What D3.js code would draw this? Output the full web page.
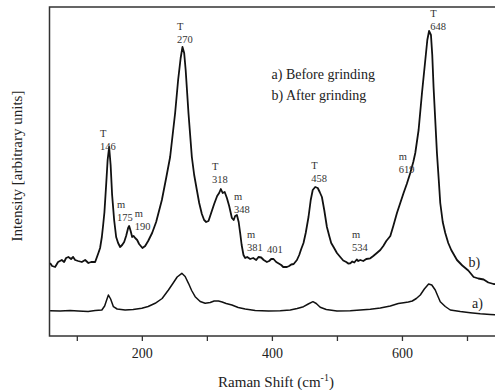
<!DOCTYPE html>
<html>
<head>
<meta charset="utf-8">
<script src="https://cdn.jsdelivr.net/npm/d3@7"></script>
<style>
  body { margin: 0; background: #fff; }
  svg text { font-family: "Liberation Serif", "Times New Roman", serif; }
</style>
</head>
<body>
<div id="chart"></div>
<script>
// Raman shift (cm-1) and intensity (arbitrary units)
const afterShift = [58.9, 62, 66.6, 71.2, 76.9, 80.5, 83.5, 87, 91.2, 94.3, 97.4, 102, 107.7, 112.8, 117.8, 122, 128.2, 133.2, 135.8, 138.5, 140.5, 142.5, 145.1, 147.4, 149.7, 152, 154.3, 157.4, 160.5, 163.5, 166.6, 169.7, 172.8, 175.8, 178.9, 180.5, 182.8, 185.1, 187.4, 189.7, 192.8, 195.8, 200.9, 205.1, 209.7, 215.8, 222, 230.8, 237.4, 243.5, 251.2, 255.8, 259.7, 262.5, 265.1, 267.4, 271.7, 276.9, 280.5, 284.6, 288.2, 292.3, 295.8, 298.9, 302.5, 306.6, 311.2, 315.8, 318.9, 321.5, 324.3, 327.4, 330.8, 334.3, 338.5, 341.2, 343.5, 346.2, 348.9, 351.2, 353.5, 356.3, 358.9, 362, 366.6, 371.2, 375.9, 379.4, 383.5, 387.4, 392.3, 395.8, 398.9, 402.5, 406.6, 410.5, 414.3, 417.4, 423.1, 426.6, 429.7, 433.5, 438.5, 442, 445.1, 448.6, 452, 456.3, 459.7, 462.8, 466.6, 470.5, 473.5, 476.9, 480.5, 484.6, 488.2, 491.2, 494.8, 500, 505.1, 509.7, 514.3, 517.4, 520.5, 523.6, 526.7, 530.5, 532.8, 535.9, 540.5, 545.1, 551.3, 555.9, 560.5, 566.7, 571.3, 575.9, 582.1, 586.7, 592.3, 597.4, 602.5, 607.4, 612.8, 617.4, 620.5, 625.6, 630.8, 635.9, 639, 641.7, 644.6, 646.6, 648.6, 651.2, 653.8, 656.6, 658.9, 662.7, 666.6, 671.2, 675.8, 684.6, 692.8, 702, 710.2, 717.4, 725.6, 732.8, 740.9, 746.6];
const afterInt = [73, 70, 69, 74, 76, 74, 78, 79, 77, 79, 76, 75, 74, 76, 73, 74, 74, 83, 88, 99, 111, 124, 151, 176, 189, 171, 141, 116, 99, 93, 89, 91, 94, 100, 108, 110, 105, 99, 100, 98, 96, 92, 88, 90, 95, 103, 114, 136, 158, 179, 223, 256, 278, 289, 283, 266, 223, 179, 161, 146, 133, 122, 116, 114, 115, 123, 132, 140, 143, 147, 143, 144, 138, 130, 118, 116, 120, 121, 114, 103, 91, 81, 78, 79, 77, 78, 76, 79, 78.5, 76, 74, 75, 77, 77, 74, 72.5, 71, 69, 69, 70, 71.5, 72, 76, 81, 87, 93, 103, 119, 136, 146, 149, 148, 144, 139, 126, 109, 100, 93, 89, 83, 79, 75.5, 74, 72.5, 72.7, 74.5, 73.5, 76.5, 75, 76, 75, 77, 77.7, 80, 82.5, 86, 90, 95, 100, 110, 123, 133, 143, 152, 163, 174, 183, 206, 243, 276, 296, 305, 301, 281, 249, 216, 183, 156, 133, 114, 103, 93, 86, 76, 70.5, 65.5, 59, 57.5, 56.5, 53.5, 52, 51.5];

const beforeShift = [58.9, 74.3, 89.7, 102, 117.4, 128.2, 138.5, 142.8, 145.9, 148.6, 152, 156.3, 162, 174.3, 186.6, 200, 209.7, 220.5, 231.2, 240.9, 248.2, 254.3, 261.5, 266.6, 271.7, 276.6, 282, 289.7, 297.4, 305.1, 311.2, 317.8, 323.5, 329.7, 338.5, 348.2, 358.9, 374.3, 394.8, 412.8, 428.2, 438.9, 448.6, 455.9, 463.1, 468.2, 474.3, 483.6, 500, 520.5, 551.3, 566.7, 582.1, 594.4, 602.5, 609.8, 615.9, 622.1, 628.2, 634.4, 641, 645.9, 651.2, 655.1, 658.9, 666.6, 674.3, 689.7, 705, 720.4, 735.8, 746.6];
const beforeInt = [25.3, 25, 25.5, 25, 24.5, 25.5, 26, 30, 36, 41, 37, 29.3, 27, 26, 26.5, 27.7, 29.5, 32.7, 37.5, 46, 53, 59, 62.7, 59.5, 52.7, 45.5, 39.3, 34.5, 32.7, 33.5, 35, 35, 34, 32.5, 31, 28.5, 27, 25.5, 25, 25.3, 26, 27.5, 29.3, 32, 34.3, 32.5, 28.7, 26.5, 25, 25.2, 26.7, 28, 30, 32.5, 33.3, 34, 35, 37.5, 41, 47, 52, 51, 46, 40, 34.3, 29.5, 26, 24.5, 23.3, 22.2, 21.5, 21];

// peak annotations: phase letter, label, where the label sits (cm-1, intensity)
const peakPhase = ["T", "m", "m", "T", "T", "m", "m", "", "T", "m", "m", "T"];
const peakLabel = ["146", "175", "190", "270", "318", "348", "381", "401", "458", "534", "619", "648"];
const peakLabelX = [135.7, 161.8, 189, 254.1, 307.9, 341.7, 361.7, 392.5, 460.6, 523.2, 595, 643.6];
const peakLabelY = [190, 118.7, 109.3, 297, 156.7, 126.5, 88.7, 86.7, 157.7, 88.7, 167, 309.3];

const xTicks = [100, 200, 300, 400, 500, 600, 700];
const xTickLabels = [200, 400, 600];
const legendLines = ["a) Before grinding", "b) After grinding"];

const W = 495, H = 390;
const margin = { top: 7, left: 49.5, bottom: 54 };
const plotW = 450;
const plotH = H - margin.top - margin.bottom;

const svg = d3.select('#chart').append('svg')
  .attr('width', W)
  .attr('height', H);

const g = svg.append('g')
  .attr('transform', `translate(${margin.left}, ${margin.top})`);

const x = d3.scaleLinear().domain([58, 750]).range([0, plotW]);
const y = d3.scaleLinear().domain([0, 329]).range([plotH, 0]);

// frame
g.append('rect')
  .attr('x', 0).attr('y', 0)
  .attr('width', plotW).attr('height', plotH)
  .attr('fill', 'none')
  .attr('stroke', '#333')
  .attr('stroke-width', 1.5);

// x axis
const xAxis = g.append('g')
  .attr('transform', `translate(0, ${plotH})`)
  .call(d3.axisBottom(x)
    .tickValues(xTicks)
    .tickSize(5)
    .tickPadding(7)
    .tickFormat(d => xTickLabels.includes(d) ? d : ''));
xAxis.select('.domain').remove();
xAxis.selectAll('line').attr('stroke', '#333').attr('stroke-width', 1.3);
xAxis.selectAll('text')
  .attr('fill', '#222')
  .style('font-size', '14px')
  .style('font-family', '"Liberation Serif", serif');

const line = d3.line()
  .x(d => x(d[0]))
  .y(d => y(d[1]))
  .curve(d3.curveLinear);

const spectra = [
  d3.zip(beforeShift, beforeInt),
  d3.zip(afterShift, afterInt)
];

g.append('defs').append('clipPath').attr('id', 'clip')
  .append('rect').attr('width', plotW).attr('height', plotH);

g.selectAll('path.spectrum')
  .data(spectra)
  .enter().append('path')
  .attr('class', 'spectrum')
  .attr('clip-path', 'url(#clip)')
  .attr('d', line)
  .attr('fill', 'none')
  .attr('stroke', '#111')
  .attr('stroke-width', (d, i) => i === 1 ? 1.8 : 1.5)
  .attr('stroke-linejoin', 'round');

// peak labels
const peaks = g.selectAll('g.peak')
  .data(peakLabel.map((t, i) => ({ phase: peakPhase[i], label: t, px: peakLabelX[i], py: peakLabelY[i] })))
  .enter().append('g')
  .attr('class', 'peak')
  .attr('transform', d => `translate(${x(d.px)}, ${y(d.py)})`);

peaks.append('text')
  .attr('y', 3.7)
  .attr('fill', '#333')
  .style('font-size', '10.5px')
  .text(d => d.label);

peaks.append('text')
  .attr('y', -9.5)
  .attr('fill', '#333')
  .style('font-size', '10.5px')
  .text(d => d.phase);

// legend text
g.selectAll('text.legend')
  .data(legendLines)
  .enter().append('text')
  .attr('class', 'legend')
  .attr('x', 222)
  .attr('y', (d, i) => 72 + i * 21)
  .attr('fill', '#222')
  .style('font-size', '14px')
  .text(d => d);

// curve tags
g.append('text')
  .attr('x', 419).attr('y', 259.5)
  .attr('fill', '#222')
  .style('font-size', '14px')
  .text('b)');
g.append('text')
  .attr('x', 422.5).attr('y', 301)
  .attr('fill', '#222')
  .style('font-size', '14px')
  .text('a)');

// axis titles
const xTitle = svg.append('text')
  .attr('x', 276)
  .attr('y', 387)
  .attr('text-anchor', 'middle')
  .attr('fill', '#222')
  .style('font-size', '15px');
xTitle.append('tspan').text('Raman Shift (cm');
xTitle.append('tspan').attr('dy', -6).style('font-size', '10px').text('-1');
xTitle.append('tspan').attr('dy', 6).text(')');

svg.append('text')
  .attr('transform', 'translate(22, 166) rotate(-90)')
  .attr('text-anchor', 'middle')
  .attr('fill', '#222')
  .style('font-size', '15px')
  .text('Intensity [arbitrary units]');
</script>
</body>
</html>
